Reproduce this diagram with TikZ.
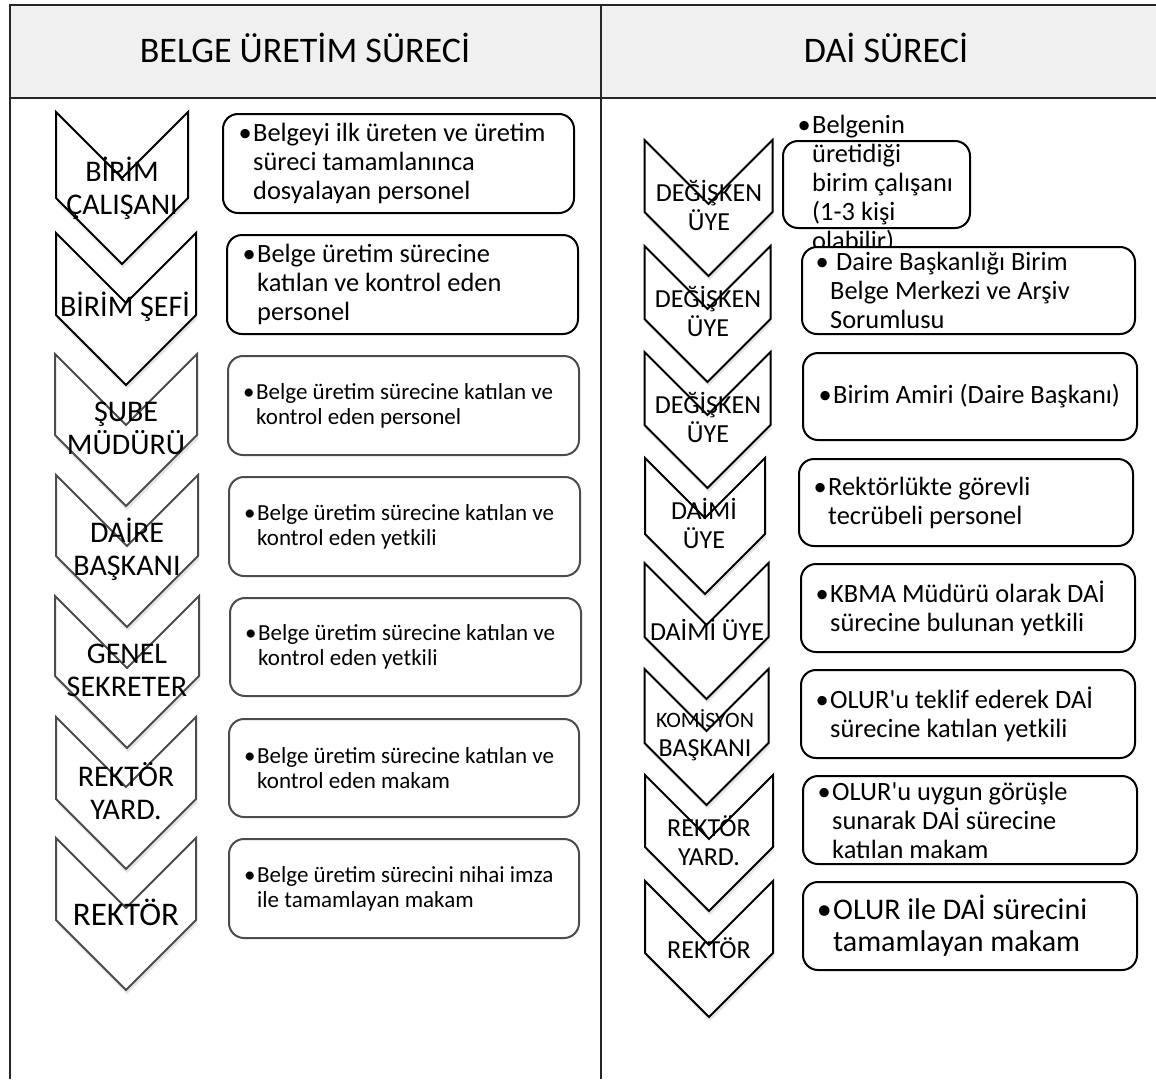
\documentclass[tikz,border=0pt]{standalone}
\usepackage{fontspec}
\setmainfont{Carlito}
\usetikzlibrary{positioning, shadows}
\definecolor{hdrgray}{HTML}{F0F0F0}
\newcommand{\blt}{\llap{•\kern1.5pt}}

\begin{document}
\begin{tikzpicture}[x=1pt, y=-1pt,
    tblline/.style={draw=black!85, line width=1.5pt},
    hdr/.style={font=\fontsize{36}{40}\selectfont, anchor=base},
    chev/.style={fill=white, line width=2pt, line join=miter,
                 drop shadow={opacity=0.2, shadow xshift=1pt, shadow yshift=-4pt}},
    chevtxt/.style={align=center, inner sep=0pt, font=\fontsize{30}{33}\selectfont},
    chevtxtR/.style={chevtxt, font=\fontsize{26}{29}\selectfont},
    infobox/.style={draw, fill=white, line width=2pt, rounded corners=15pt,
                    anchor=north west, inner sep=0pt},
    infotxt/.style={align=left, anchor=west, inner sep=0pt,
                    font=\fontsize{26.4}{29}\selectfont},
    infosmall/.style={infotxt, font=\fontsize{23}{25}\selectfont}]

  \useasboundingbox (0,0) rectangle (1156,1079);
  \fill[white] (0,0) rectangle (1156,1079);

  % Table frame and header row
  \fill[hdrgray] (10,5) rectangle (1156,98);
  \draw[tblline] (1156,5) -- (10,5) -- (10,1079);
  \draw[tblline] (601,5) -- (601,1079);
  \draw[tblline] (10,98) -- (1156,98);
  \node[hdr] (hL) at (305,62) {BELGE ÜRETİM SÜRECİ};
  \node[hdr] (hR) at (886,62) {DAİ SÜRECİ};

  % Chevrons, left column
  \foreach \cx/\ty/\w/\col in {122/112/66/black, 126/233/70/black,
      126/354/71/black!70, 127/475/71/black!70, 127/596/72/black!70,
      126/717/70/black!70, 126/838/70/black!70}
    \draw[chev, draw=\col] ({\cx-\w},\ty) -- (\cx,{\ty+\w}) -- ({\cx+\w},\ty)
      -- ({\cx+\w},{\ty+152-\w}) -- (\cx,{\ty+152}) -- ({\cx-\w},{\ty+152-\w}) -- cycle;

  % Chevrons, right column
  \foreach \cx/\ty/\w in {708.5/140/64, 707.5/246/63, 707.5/352/63, 705/458/60,
      706.5/563/62, 706.5/669/62, 709/775/64, 709/881/64}
    \draw[chev, draw=black] ({\cx-\w},\ty) -- (\cx,{\ty+\w}) -- ({\cx+\w},\ty)
      -- ({\cx+\w},{\ty+136-\w}) -- (\cx,{\ty+136}) -- ({\cx-\w},{\ty+136-\w}) -- cycle;

  % Chevron labels
  \node[chevtxt] (cL1) at (122,188) {BİRİM\\ÇALIŞANI};
  \node[chevtxt] (cL2) at (125,307) {BİRİM ŞEFİ};
  \node[chevtxt] (cL3) at (126,428) {ŞUBE\\MÜDÜRÜ};
  \node[chevtxt] (cL4) at (127,549) {DAİRE\\BAŞKANI};
  \node[chevtxt] (cL5) at (127,670) {GENEL\\SEKRETER};
  \node[chevtxt] (cL6) at (126,791) {REKTÖR\\YARD.};
  \node[chevtxt, font=\fontsize{33}{36}\selectfont] (cL7) at (126,912) {REKTÖR};

  \node[chevtxtR] (cR1) at (709,205) {DEĞİŞKEN\\ÜYE};
  \node[chevtxtR] (cR2) at (708,311) {DEĞİŞKEN\\ÜYE};
  \node[chevtxtR] (cR3) at (708,417) {DEĞİŞKEN\\ÜYE};
  \node[chevtxtR] (cR4) at (704,523) {DAİMİ\\ÜYE};
  \node[chevtxtR] (cR5) at (707,630) {DAİMİ ÜYE};
  \node[chevtxtR] (cR6) at (705,735) {{\fontsize{22}{26}\selectfont KOMİSYON}\\BAŞKANI};
  \node[chevtxtR] (cR7) at (709,841) {REKTÖR\\YARD.};
  \node[chevtxtR] (cR8) at (709,948) {REKTÖR};

  % Description boxes, left column
  \node[infobox, minimum width=351, minimum height=99] (bL1) at (222,113) {};
  \node[infotxt, right=31pt of bL1.west]
    {\blt Belgeyi ilk üreten ve üretim\\süreci tamamlanınca\\dosyalayan personel};
  \node[infobox, minimum width=351, minimum height=99] (bL2) at (226,234) {};
  \node[infotxt, right=31pt of bL2.west]
    {\blt Belge üretim sürecine\\katılan ve kontrol eden\\personel};
  \node[infobox, draw=black!70, minimum width=351, minimum height=99] (bL3) at (227,355) {};
  \node[infosmall, right=29pt of bL3.west]
    {\blt Belge üretim sürecine katılan ve\\kontrol eden personel};
  \node[infobox, draw=black!70, minimum width=351, minimum height=99] (bL4) at (228,476) {};
  \node[infosmall, right=29pt of bL4.west]
    {\blt Belge üretim sürecine katılan ve\\kontrol eden yetkili};
  \node[infobox, draw=black!70, minimum width=351, minimum height=98] (bL5) at (229,597) {};
  \node[infosmall, right=29pt of bL5.west]
    {\blt Belge üretim sürecine katılan ve\\kontrol eden yetkili};
  \node[infobox, draw=black!70, minimum width=350, minimum height=98] (bL6) at (228,718) {};
  \node[infosmall, right=29pt of bL6.west]
    {\blt Belge üretim sürecine katılan ve\\kontrol eden makam};
  \node[infobox, draw=black!70, minimum width=350, minimum height=99] (bL7) at (228,838) {};
  \node[infosmall, right=29pt of bL7.west]
    {\blt Belge üretim sürecini nihai imza\\ile tamamlayan makam};

  % Description boxes, right column
  \node[infobox, minimum width=187, minimum height=87] (bR1) at (782,140) {};
  \node[infotxt, right=30pt of bR1.west]
    {\blt Belgenin\\üretidiği\\birim çalışanı\\(1-3 kişi\\olabilir)};
  \node[infobox, minimum width=333, minimum height=87] (bR2) at (801,246) {};
  \node[infotxt, right=29pt of bR2.west]
    {\blt\ Daire Başkanlığı Birim\\Belge Merkezi ve Arşiv\\Sorumlusu};
  \node[infobox, minimum width=334, minimum height=87] (bR3) at (802,352) {};
  \node[infotxt, right=31pt of bR3.west]
    {\blt Birim Amiri (Daire Başkanı)};
  \node[infobox, minimum width=334, minimum height=87] (bR4) at (798,458) {};
  \node[infotxt, right=30pt of bR4.west]
    {\blt Rektörlükte görevli\\tecrübeli personel};
  \node[infobox, minimum width=334, minimum height=88] (bR5) at (800,563) {};
  \node[infotxt, right=30pt of bR5.west]
    {\blt KBMA Müdürü olarak DAİ\\sürecine bulunan yetkili};
  \node[infobox, minimum width=334, minimum height=88] (bR6) at (800,669) {};
  \node[infotxt, right=30pt of bR6.west]
    {\blt OLUR\textquotesingle u teklif ederek DAİ\\sürecine katılan yetkili};
  \node[infobox, minimum width=334, minimum height=88] (bR7) at (802,775) {};
  \node[infotxt, right=30pt of bR7.west]
    {\blt OLUR\textquotesingle u uygun görüşle\\sunarak DAİ sürecine\\katılan makam};
  \node[infobox, minimum width=334, minimum height=88] (bR8) at (802,881) {};
  \node[infotxt, font=\fontsize{30}{32}\selectfont, right=31pt of bR8.west]
    {\blt OLUR ile DAİ sürecini\\tamamlayan makam};
\end{tikzpicture}
\end{document}
